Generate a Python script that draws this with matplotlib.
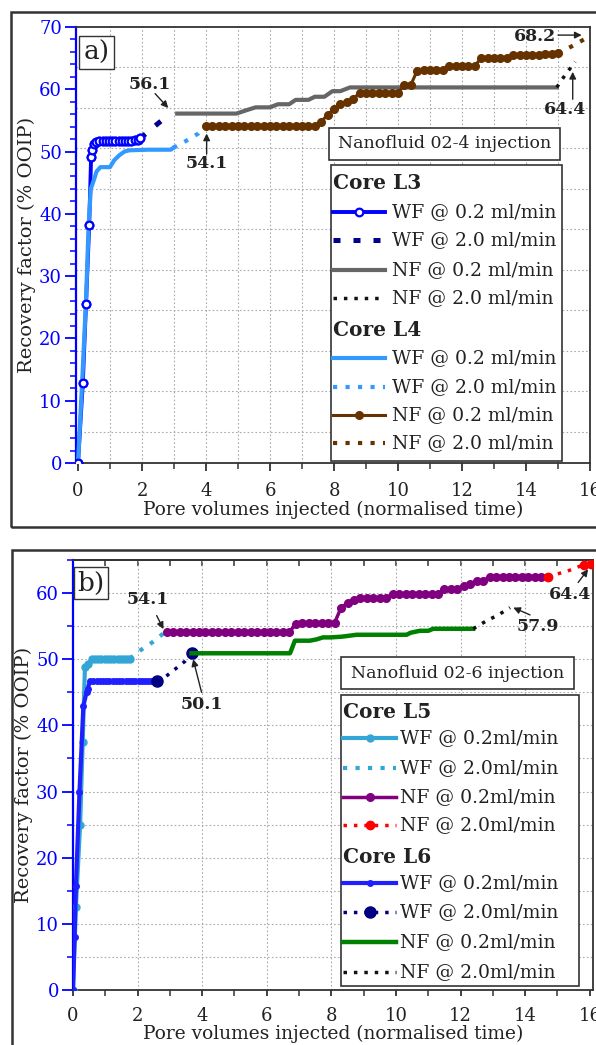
import matplotlib
matplotlib.use('Agg')
import matplotlib.pyplot as plt
from matplotlib.lines import Line2D
from matplotlib.patches import Rectangle
import matplotlib.ticker as mticker

plt.rcParams['font.family'] = ['DejaVu Serif']

# ---------------- Panel a) data ----------------
l3_wf02_x = [0, 0.15, 0.25, 0.35, 0.41, 0.43, 0.5, 0.57, 0.67, 0.77, 0.87, 0.97, 1.07, 1.17,
             1.27, 1.37, 1.47, 1.57, 1.67, 1.77, 1.87, 1.94]
l3_wf02_y = [0, 12.8, 25.5, 38.2, 49.2, 50.2, 51.2, 51.6, 51.7, 51.7, 51.7, 51.7, 51.7, 51.7,
             51.7, 51.7, 51.7, 51.7, 51.7, 51.8, 51.8, 52.1]
l3_wf20_x = [1.94, 2.38, 2.88]
l3_wf20_y = [52.1, 54.0, 56.1]
l3_nf02_x = [3.1, 4.95, 5.3, 5.55, 6.0, 6.25, 6.6, 6.8, 7.2, 7.4, 7.7, 7.95, 8.2, 8.5, 14.96]
l3_nf02_y = [56.1, 56.1, 56.7, 57.1, 57.1, 57.6, 57.6, 58.3, 58.3, 58.8, 58.8, 59.7, 59.7, 60.3, 60.3]
l3_nf20_x = [14.96, 15.25, 15.54]
l3_nf20_y = [60.3, 62.5, 64.4]

l4_wf02_x = [0, 0.12, 0.25, 0.33, 0.4, 0.5, 0.58, 0.7, 1.0, 1.13, 1.29, 1.45, 1.6, 2.2, 2.9, 2.98]
l4_wf02_y = [0, 12.0, 26.0, 38.0, 44.0, 45.5, 46.8, 47.5, 47.5, 48.6, 49.4, 50.0, 50.2, 50.3, 50.3, 50.6]
l4_wf20_x = [2.98, 3.34, 3.76, 3.97]
l4_wf20_y = [50.6, 51.6, 52.9, 54.1]
l4_nf02_x = [4.0, 4.2, 4.4, 4.6, 4.8, 5.0, 5.2, 5.4, 5.6, 5.8, 6.0, 6.2, 6.4, 6.6, 6.8, 7.0, 7.2, 7.4,
             7.6, 7.8, 8.0, 8.2, 8.4, 8.6, 8.8, 9.0, 9.2, 9.4, 9.6, 9.8, 10.0, 10.2, 10.4, 10.6,
             10.8, 11.0, 11.2, 11.4, 11.6, 11.8, 12.0, 12.2, 12.4, 12.6, 12.8, 13.0, 13.2, 13.4,
             13.6, 13.8, 14.0, 14.2, 14.4, 14.6, 14.8, 15.0]
l4_nf02_y = [54.1, 54.1, 54.1, 54.1, 54.1, 54.1, 54.1, 54.1, 54.1, 54.1, 54.1, 54.1, 54.1, 54.1,
             54.1, 54.1, 54.1, 54.1, 54.8, 55.9, 56.9, 57.6, 58.0, 58.5, 59.4, 59.4, 59.4, 59.4,
             59.4, 59.4, 59.4, 60.7, 60.7, 63.0, 63.1, 63.1, 63.1, 63.1, 63.8, 63.8, 63.8, 63.8,
             63.8, 65.0, 65.0, 65.0, 65.0, 65.0, 65.5, 65.5, 65.5, 65.5, 65.5, 65.6, 65.7, 65.8]
l4_nf20_x = [15.0, 15.43, 15.88]
l4_nf20_y = [65.8, 66.9, 68.2]

# ---------------- Panel b) data ----------------
l5_wf02_x = [0, 0.09, 0.22, 0.3, 0.37, 0.47, 0.58, 0.68, 0.78, 0.88, 0.98, 1.08, 1.18, 1.28,
             1.38, 1.48, 1.58, 1.68, 1.76]
l5_wf02_y = [0, 12.6, 25.0, 37.5, 48.8, 49.3, 50.0, 50.1, 50.1, 50.1, 50.1, 50.1, 50.1, 50.1,
             50.1, 50.1, 50.1, 50.1, 50.1]
l5_wf20_x = [1.76, 2.07, 2.44, 2.85]
l5_wf20_y = [50.1, 51.3, 52.5, 54.1]
l5_nf02_x = [2.9, 3.1, 3.3, 3.5, 3.7, 3.9, 4.1, 4.3, 4.5, 4.7, 4.9, 5.1, 5.3, 5.5, 5.7, 5.9, 6.1,
             6.3, 6.5, 6.7, 6.9, 7.1, 7.3, 7.5, 7.7, 7.9, 8.1, 8.3, 8.5, 8.7, 8.9, 9.1, 9.3, 9.5,
             9.7, 9.9, 10.1, 10.3, 10.5, 10.7, 10.9, 11.1, 11.3, 11.5, 11.7, 11.9, 12.1, 12.3,
             12.5, 12.7, 12.9, 13.1, 13.3, 13.5, 13.7, 13.9, 14.1, 14.3, 14.5, 14.7]
l5_nf02_y = [54.1, 54.1, 54.1, 54.1, 54.1, 54.1, 54.1, 54.1, 54.1, 54.1, 54.1, 54.1, 54.1, 54.1,
             54.1, 54.1, 54.1, 54.1, 54.1, 54.1, 55.4, 55.5, 55.5, 55.5, 55.5, 55.5, 55.5, 57.8,
             58.5, 59.0, 59.3, 59.3, 59.3, 59.3, 59.3, 59.8, 59.8, 59.8, 59.8, 59.8, 59.8, 59.8,
             59.8, 60.6, 60.6, 60.6, 61.1, 61.4, 61.8, 61.8, 62.5, 62.5, 62.5, 62.5, 62.5, 62.5,
             62.5, 62.5, 62.5, 62.5]
l5_nf20_x = [14.7, 15.3, 15.82, 16.05]
l5_nf20_y = [62.5, 63.3, 64.3, 64.4]

l6_wf02_x = [0, 0.05, 0.09, 0.2, 0.32, 0.42, 0.45, 0.53, 0.63, 0.73, 0.83, 0.93, 1.03, 1.13, 1.23,
             1.33, 1.43, 1.53, 1.63, 1.73, 1.83, 1.93, 2.03, 2.13, 2.23, 2.33, 2.43, 2.53, 2.61]
l6_wf02_y = [0, 8.0, 15.7, 29.9, 42.9, 45.0, 45.5, 46.7, 46.7, 46.7, 46.7, 46.7, 46.7, 46.7, 46.7,
             46.7, 46.7, 46.7, 46.7, 46.7, 46.7, 46.7, 46.7, 46.7, 46.7, 46.7, 46.7, 46.7, 46.7]
l6_wf20_x = [2.61, 2.85, 3.16, 3.47, 3.67]
l6_wf20_y = [46.7, 47.3, 48.5, 49.7, 50.9]
l6_nf02_x = [3.67, 6.72, 6.87, 7.33, 7.54, 7.74, 7.96, 8.3, 8.47, 8.78, 10.33, 10.45, 10.74, 11.0,
             11.15, 12.39]
l6_nf02_y = [50.9, 50.9, 52.8, 52.8, 53.0, 53.3, 53.3, 53.4, 53.5, 53.7, 53.7, 54.0, 54.3, 54.3,
             54.6, 54.6]
l6_nf20_x = [12.39, 12.8, 13.17, 13.53]
l6_nf20_y = [54.6, 55.8, 56.7, 57.8]

# labels
xlabel = 'Pore volumes injected (normalised time)'
ylabel = 'Recovery factor (% OOIP)'
legend_a = ['Core L3', 'WF @ 0.2 ml/min', 'WF @ 2.0 ml/min', 'NF @ 0.2 ml/min', 'NF @ 2.0 ml/min',
            'Core L4', 'WF @ 0.2 ml/min', 'WF @ 2.0 ml/min', 'NF @ 0.2 ml/min', 'NF @ 2.0 ml/min']
legend_b = ['Core L5', 'WF @ 0.2ml/min', 'WF @ 2.0ml/min', 'NF @ 0.2ml/min', 'NF @ 2.0ml/min',
            'Core L6', 'WF @ 0.2ml/min', 'WF @ 2.0ml/min', 'NF @ 0.2ml/min', 'NF @ 2.0ml/min']

# ---------------- styles ----------------
DOT = (0, (1, 2))
st_a = [
    dict(color='#0000FF', lw=2.8, marker='o', ms=5.5, mfc='white', mec='#0000FF', mew=1.6),
    dict(color='#00008B', lw=3.6, ls=(0, (1.4, 2.6)), dash_capstyle='butt'),
    dict(color='#666666', lw=3.0),
    dict(color='#111111', lw=2.5, ls=DOT),
    dict(color='#3399FF', lw=3.0),
    dict(color='#3399FF', lw=3.0, ls=DOT),
    dict(color='#663300', lw=2.2, marker='o', ms=5.5, mfc='#663300', mec='#663300'),
    dict(color='#663300', lw=3.0, ls=DOT),
]
st_b = [
    dict(color='#33A6D6', lw=3.0, marker='o', ms=5, mfc='#33A6D6', mec='#33A6D6'),
    dict(color='#33A6D6', lw=3.0, ls=DOT),
    dict(color='#800080', lw=2.5, marker='o', ms=5.5, mfc='#800080', mec='#800080'),
    dict(color='#FF0000', lw=2.5, ls=DOT, marker='o', ms=6, mfc='#FF0000', mec='#FF0000'),
    dict(color='#2020FF', lw=3.0, marker='o', ms=4, mfc='#2020FF', mec='#2020FF'),
    dict(color='#000080', lw=2.5, ls=DOT, marker='o', ms=8, mfc='#000080', mec='#000080'),
    dict(color='#008000', lw=3.2),
    dict(color='#111111', lw=2.5, ls=DOT),
]

W, H = 596, 1045
fig = plt.figure(figsize=(W / 100, H / 100), dpi=100)

# outer panel frames
fig.add_artist(Rectangle((11 / W, 1 - 527 / H), 700 / W, 515 / H, transform=fig.transFigure,
                         fill=False, lw=1.8, ec='#333333'))
fig.add_artist(Rectangle((12 / W, -0.1), 700 / W, (1 - 550 / H) + 0.1, transform=fig.transFigure,
                         fill=False, lw=1.8, ec='#333333'))

TXT = '#222222'
BLUE = '#0000FF'
GRID = dict(color='#aaaaaa', lw=0.8, ls=(0, (1.5, 2)), zorder=0.5)


def setup_axes(ax, ymax, ymaj, ymin_step, hgrid, vgrid, xmin, xmax):
    ax.set_xlim(xmin, xmax)
    ax.set_ylim(0, ymax)
    ax.xaxis.set_major_locator(mticker.MultipleLocator(2))
    ax.xaxis.set_minor_locator(mticker.MultipleLocator(1))
    ax.yaxis.set_major_locator(mticker.MultipleLocator(ymaj))
    ax.yaxis.set_minor_locator(mticker.MultipleLocator(ymin_step))
    for s in ['top', 'right', 'bottom']:
        ax.spines[s].set_color('#333333')
        ax.spines[s].set_linewidth(1.3)
    ax.spines['left'].set_color(BLUE)
    ax.spines['left'].set_linewidth(1.6)
    ax.tick_params(axis='y', which='major', length=8, width=1.3, color=BLUE, labelcolor=BLUE,
                   labelsize=13, pad=2)
    ax.tick_params(axis='y', which='minor', length=4.5, width=1.1, color=BLUE)
    ax.tick_params(axis='x', which='major', length=6, width=1.3, color='#333333',
                   labelcolor=TXT, labelsize=13, pad=8)
    ax.tick_params(axis='x', which='minor', length=4, width=1.1, color='#333333')
    for v in hgrid:
        ax.axhline(v, **GRID)
    for v in vgrid:
        ax.axvline(v, **GRID)
    ax.set_xlabel(xlabel, fontsize=13.4, color=TXT, labelpad=0)
    ax.set_ylabel(ylabel, fontsize=14, color=TXT, labelpad=2)


def draw_legend(ax, x0, x1, y0, y1, rows, labels, styles, hx0, hx1, tx, fs, hfs):
    ax.add_patch(Rectangle((x0, y0), x1 - x0, y1 - y0, transform=ax.transAxes, fc='white',
                           ec='#333333', lw=1.2, zorder=10))
    k = 0
    for lab, ry in zip(labels, rows):
        if lab.startswith('Core'):
            ax.text(hx0, ry, lab, transform=ax.transAxes, fontsize=hfs, fontweight='bold',
                    color=TXT, va='center', ha='left', zorder=11)
        else:
            st = dict(styles[k])
            if 'marker' in st:
                st['markevery'] = [1]
            ax.add_line(Line2D([hx0, (hx0 + hx1) / 2, hx1], [ry, ry, ry], transform=ax.transAxes,
                               zorder=11, **st))
            ax.text(tx, ry, lab, transform=ax.transAxes, fontsize=fs, color=TXT, va='center',
                    ha='left', zorder=11)
            k += 1


def boxed_text(ax, x0, x1, y0, y1, s, fs):
    ax.add_patch(Rectangle((x0, y0), x1 - x0, y1 - y0, transform=ax.transAxes, fc='white',
                           ec='#333333', lw=1.2, zorder=10))
    ax.text((x0 + x1) / 2, (y0 + y1) / 2, s, transform=ax.transAxes, fontsize=fs, color=TXT,
            ha='center', va='center', zorder=11)


def arrow(ax, txt, tpos, tail, tip):
    ax.text(tpos[0], tpos[1], txt, fontsize=12.5, fontweight='bold', color=TXT, ha='center',
            va='center', zorder=12)
    ax.annotate('', xy=tip, xytext=tail,
                arrowprops=dict(arrowstyle='-|>', color=TXT, lw=1.0, mutation_scale=10,
                                shrinkA=0, shrinkB=0), zorder=12)


# ================= Panel a =================
axa = fig.add_axes([76 / W, 1 - 463 / H, (590 - 76) / W, 436 / H])
setup_axes(axa, 70, 10, 2, [5, 11.5, 18, 24.5, 31, 37.5, 44, 50.5, 57, 63.5],
           list(range(1, 16)), -0.0625, 16.0)
series_a = [(l3_wf02_x, l3_wf02_y), (l3_wf20_x, l3_wf20_y), (l3_nf02_x, l3_nf02_y),
            (l3_nf20_x, l3_nf20_y), (l4_wf02_x, l4_wf02_y), (l4_wf20_x, l4_wf20_y),
            (l4_nf02_x, l4_nf02_y), (l4_nf20_x, l4_nf20_y)]
zorders_a = [3, 3, 3, 3, 4, 3, 3, 3]
for i in [0, 1, 2, 3, 4, 5, 6, 7]:
    x, y = series_a[i]
    axa.plot(x, y, zorder=zorders_a[i], **st_a[i])
# L3 water-flood markers stay visible above the L4 curve
m3 = {k: v for k, v in st_a[0].items() if k not in ('lw', 'color')}
axa.plot(l3_wf02_x, l3_wf02_y, ls='none', zorder=5, **m3)

def ay(py):
    return (463 - py) / 436

def ax_x(px):
    return (px - 76) / 514

boxed_text(axa, ax_x(329), ax_x(560), ay(160), ay(128), 'Nanofluid 02-4 injection', 12.5)
rows_a = [183.3, 211.7, 240, 270, 298.3, 330, 358.3, 386.7, 415, 443.3]
draw_legend(axa, ax_x(330.7), ax_x(561.7), ay(460.7), ay(165), [ay(r) for r in rows_a], legend_a,
            st_a, ax_x(333), ax_x(385), ax_x(392), 13.5, 14.5)

arrow(axa, '56.1', (2.25, 60.7), (2.41, 59.3), (2.82, 57.0))
arrow(axa, '54.1', (4.02, 48.1), (4.02, 49.6), (4.02, 52.9))
arrow(axa, '64.4', (15.22, 56.7), (15.46, 58.4), (15.46, 62.8))
arrow(axa, '68.2', (14.28, 68.4), (15.0, 68.7), (15.74, 68.7))

axa.text(ax_x(96.5), ay(52.5), 'a)', transform=axa.transAxes, fontsize=19, color=TXT,
         ha='center', va='center', zorder=12,
         bbox=dict(boxstyle='square,pad=0.15', fc='white', ec='#333333', lw=1.0))

# ================= Panel b =================
axb = fig.add_axes([73 / W, 1 - 990 / H, 520 / W, 430 / H])
setup_axes(axb, 65, 10, 5, list(range(5, 65, 5)), list(range(2, 16, 2)), 0, 16.1)
axb.tick_params(axis='x', which='both', length=4)
sec = axb.secondary_xaxis('top')
sec.xaxis.set_major_locator(mticker.MultipleLocator(1))
sec.tick_params(axis='x', direction='in', length=4, width=1.1, color='#333333', labeltop=False)
sec.spines['top'].set_color('#333333')
sec.spines['top'].set_linewidth(1.3)

series_b = [(l5_wf02_x, l5_wf02_y), (l5_wf20_x, l5_wf20_y), (l5_nf02_x, l5_nf02_y),
            (l5_nf20_x, l5_nf20_y), (l6_wf02_x, l6_wf02_y), (l6_wf20_x, l6_wf20_y),
            (l6_nf02_x, l6_nf02_y), (l6_nf20_x, l6_nf20_y)]
mev_b = {3: [0, 2, 3], 5: [0, 4]}
for i in [0, 1, 4, 5, 2, 6, 7, 3]:
    x, y = series_b[i]
    st = dict(st_b[i])
    if i in mev_b:
        st['markevery'] = mev_b[i]
    axb.plot(x, y, zorder=3, **st)

def by(py):
    return (990 - py) / 430

def bx(px):
    return (px - 73) / 520

boxed_text(axb, bx(341), bx(574), by(689), by(657), 'Nanofluid 02-6 injection', 12.5)
rows_b = [711.7, 738.3, 768.3, 796.7, 825, 856.7, 883.3, 911.7, 941.7, 971.7]
draw_legend(axb, bx(340.7), bx(579.3), by(986), by(695), [by(r) for r in rows_b], legend_b,
            st_b, bx(343.3), bx(396), bx(400), 13.5, 14.5)

arrow(axb, '54.1', (2.33, 59.1), (2.59, 56.6), (2.8, 54.55))
arrow(axb, '50.1', (3.98, 43.2), (3.98, 45.0), (3.72, 50.0))
arrow(axb, '57.9', (14.4, 54.9), (14.15, 56.7), (13.63, 57.8))
arrow(axb, '64.4', (15.39, 59.8), (15.64, 61.6), (15.95, 63.6))

axb.text(bx(91), by(583), 'b)', transform=axb.transAxes, fontsize=19, color=TXT,
         ha='center', va='center', zorder=12,
         bbox=dict(boxstyle='square,pad=0.12', fc='white', ec='#333333', lw=1.0))

fig.savefig('out.png', dpi=100)
